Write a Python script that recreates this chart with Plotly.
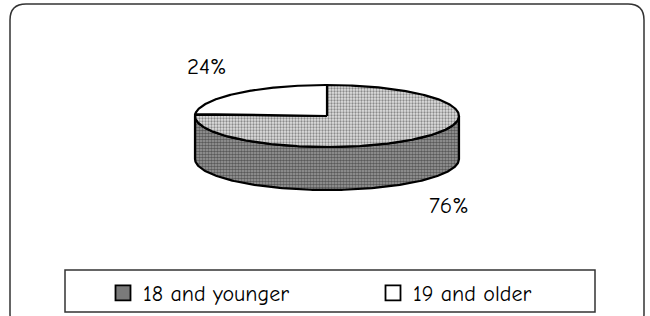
import numpy as np
import plotly.graph_objects as go

# ---- data ----
categories = ["19 and older", "18 and younger"]   # drawing order, counter-clockwise from 12 o'clock
values = [24, 76]
label_text = ["24%", "76%"]
legend_order = ["18 and younger", "19 and older"]

# ---- layout constants (pixels) ----
W, H = 650, 316
CX, CY, RX, RY, DEPTH = 327, 116, 132, 31, 43
START_ANGLE = 90
label_pos = {"19 and older": (207, 66), "18 and younger": (449, 205)}
top_style = {
    "19 and older": dict(fillcolor="white", fillpattern=None),
    "18 and younger": dict(fillcolor="#c8c8c8",
                           fillpattern=dict(shape=".", size=3, solidity=0.45,
                                            fgcolor="#333", bgcolor="#e0e0e0")),
}
side_style = {
    "19 and older": dict(fillcolor="white", fillpattern=None),
    "18 and younger": dict(fillcolor="#666",
                           fillpattern=dict(shape=".", size=3, solidity=0.6,
                                            fgcolor="#111", bgcolor="#a0a0a0")),
}
legend_swatch = {"18 and younger": "#7a7a7a", "19 and older": "white"}
FONT = "Comic Sans MS, Comic Neue, DejaVu Sans, sans-serif"

def ell(t):
    r = np.radians(t)
    return CX + RX * np.cos(r), CY - RY * np.sin(r)

fig = go.Figure()

# slice angle ranges from values
total = float(sum(values))
ranges = {}
a = START_ANGLE
for c, v in zip(categories, values):
    ranges[c] = (a, a + 360.0 * v / total)
    a = ranges[c][1]

# side walls (front half: 180..360 degrees)
for c in legend_order:
    a0, a1 = ranges[c]
    for k in (-360, 0, 360):
        lo, hi = max(a0, 180 + k), min(a1, 360 + k)
        if hi - lo <= 0.01:
            continue
        t = np.linspace(lo, hi, 160)
        xt, yt = ell(t)
        xs = list(xt) + list(xt[::-1]) + [xt[0]]
        ys = list(yt) + list((yt + DEPTH)[::-1]) + [yt[0]]
        st = side_style[c]
        kw = dict(fillcolor=st["fillcolor"])
        if st["fillpattern"]:
            kw["fillpattern"] = st["fillpattern"]
        fig.add_trace(go.Scatter(x=xs, y=ys, mode="lines", fill="toself",
                                 line=dict(color="black", width=2.2),
                                 name=c, legendgroup=c, showlegend=False,
                                 hoverinfo="skip", **kw))

# top faces
for c in legend_order:
    a0, a1 = ranges[c]
    t = np.linspace(a0, a1, 300)
    xt, yt = ell(t)
    xs = [CX] + list(xt) + [CX]
    ys = [CY] + list(yt) + [CY]
    st = top_style[c]
    kw = dict(fillcolor=st["fillcolor"])
    if st["fillpattern"]:
        kw["fillpattern"] = st["fillpattern"]
    fig.add_trace(go.Scatter(x=xs, y=ys, mode="lines", fill="toself",
                             line=dict(color="black", width=2.2),
                             name=c, legendgroup=c, showlegend=False,
                             hoverinfo="skip", **kw))

# legend entries (square swatches)
for c in legend_order:
    fig.add_trace(go.Scatter(x=[None], y=[None], mode="markers", name=c,
                             legendgroup=c,
                             marker=dict(symbol="square", size=15,
                                         color=legend_swatch[c],
                                         line=dict(color="black", width=1.8))))

# percentage labels
for c, txt in zip(categories, label_text):
    x, y = label_pos[c]
    fig.add_annotation(x=x, y=y, text=txt, showarrow=False,
                       font=dict(family=FONT, size=23, color="black"))

# outer rounded frame and legend box
r = 16
x0, x1, y0, y1 = 10, 644, 4, 330
path = (f"M{x0+r},{y0} L{x1-r},{y0} Q{x1},{y0} {x1},{y0+r} L{x1},{y1-r} "
        f"Q{x1},{y1} {x1-r},{y1} L{x0+r},{y1} Q{x0},{y1} {x0},{y1-r} "
        f"L{x0},{y0+r} Q{x0},{y0} {x0+r},{y0} Z")
fig.add_shape(type="path", path=path, xref="x", yref="y",
              line=dict(color="#333", width=1.5), layer="below")
fig.add_shape(type="rect", x0=65, x1=595, y0=270, y1=312, xref="x", yref="y",
              line=dict(color="#333", width=1.5), layer="below")

fig.update_layout(
    width=W, height=H,
    margin=dict(l=0, r=0, t=0, b=0),
    paper_bgcolor="white", plot_bgcolor="white",
    xaxis=dict(range=[0, W], visible=False, fixedrange=True),
    yaxis=dict(range=[H, 0], visible=False, fixedrange=True),
    showlegend=True,
    legend=dict(orientation="h", x=103 / W, xanchor="left",
                y=1 - 293 / H, yanchor="middle",
                bgcolor="rgba(0,0,0,0)", borderwidth=0,
                font=dict(family=FONT, size=22, color="black"),
                entrywidth=225, entrywidthmode="pixels",
                itemwidth=30, traceorder="normal"),
)

fig.write_html("out.html", config={"displayModeBar": False},
               post_script="document.body.style.margin='0';")
